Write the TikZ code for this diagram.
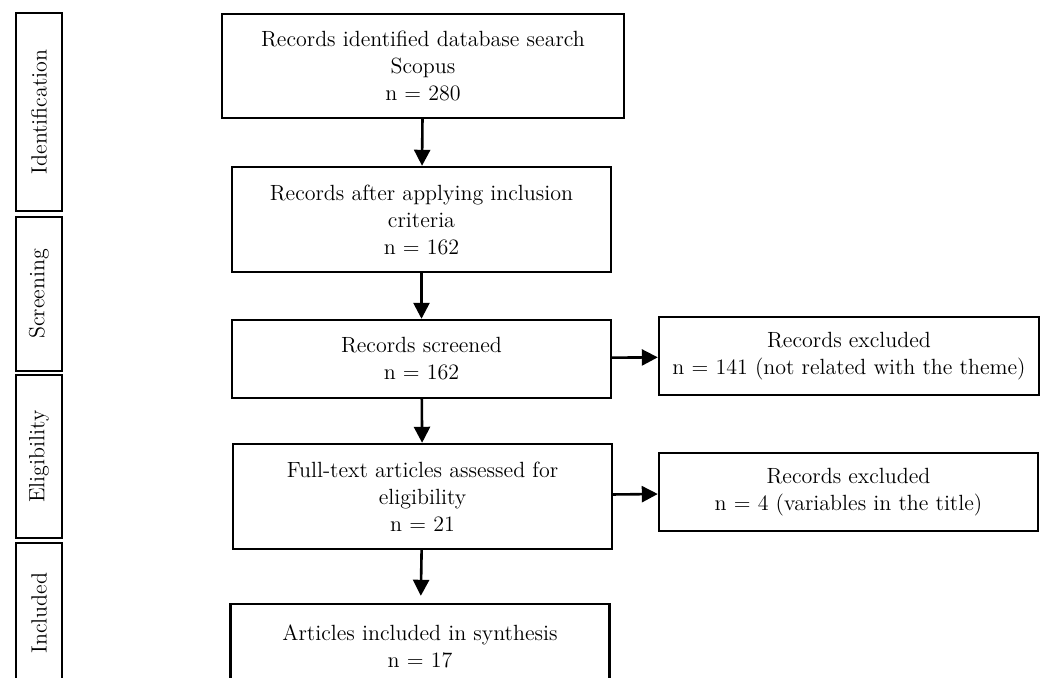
\documentclass[tikz,border=0pt]{standalone}
\usepackage{tikz}
\usetikzlibrary{arrows.meta, positioning}

\begin{document}
\begin{tikzpicture}[
          x=0.5pt, y=-0.5pt,
          box/.style={rectangle, draw=black, line width=1.2pt, fill=white, align=center, inner sep=0pt, minimum width=189.5pt, font=\fontsize{11}{13.5}\selectfont},
          phase/.style={rectangle, draw=black, line width=1.2pt, inner sep=0pt, minimum height=23pt, rotate=90, font=\fontsize{11}{13.5}\selectfont},
          arrow/.style={-{Triangle[length=8pt, width=8pt]}, line width=1.3pt, black}
        ]
          \useasboundingbox (0,0) rectangle (1045,678);

          % phases on the left
          \node (ident) [phase, minimum width=99pt] at (39,112) {Identification};
          \node (screen) [phase, minimum width=77pt] at (39,294) {Screening};
          \node (elig) [phase, minimum width=81.5pt] at (39,456.5) {Eligibility};
          \node (incl) [phase, minimum width=70pt] at (39,613) {Included};

          % main flow
          \node (found) [box, minimum width=201pt, minimum height=52pt] at (423,66) {Records identified database search\\Scopus\\n = 280};
          \node (criteria) [box, minimum height=52.5pt] at (421.5,219.5) {Records after applying inclusion\\criteria\\n = 162};
          \node (screened) [box, minimum height=39pt] at (421.5,359) {Records screened\\n = 162};
          \node (fulltext) [box, minimum height=52.5pt] at (422.5,496.5) {Full-text articles assessed for\\eligibility\\n = 21};
          \node (synth) [box, minimum height=42pt] at (420,646) {Articles included in synthesis\\n = 17};

          % exclusions
          \node (excl_a) [box, minimum width=190pt, minimum height=39pt] at (849,356) {Records excluded\\n = 141 (not related with the theme)};
          \node (excl_b) [box, minimum height=39pt] at (848.5,492) {Records excluded\\n = 4 (variables in the title)};

          \draw [arrow] (found) -- (criteria);
          \draw [arrow] (criteria) -- (screened);
          \draw [arrow] (screened) -- (fulltext);
          \draw [arrow, shorten >=3.5pt] (fulltext) -- (synth);
          \draw [arrow] (screened) -- (excl_a);
          \draw [arrow] (fulltext) -- (excl_b);
        \end{tikzpicture}
\end{document}
